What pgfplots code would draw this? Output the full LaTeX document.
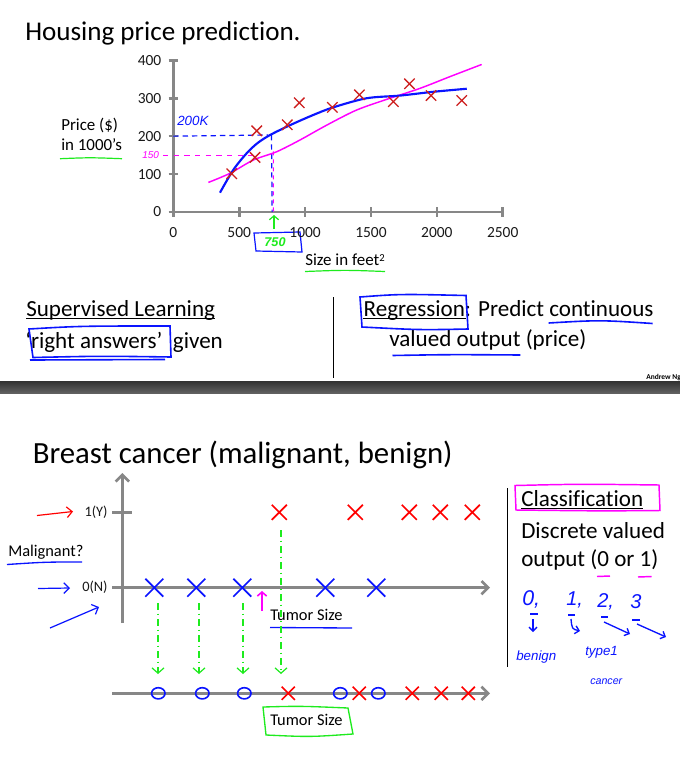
\documentclass[border=0pt]{standalone}
\usepackage{fontspec}
\setmainfont{Carlito}[Ligatures={NoCommon}]
\newfontfamily\hand{Liberation Sans}
\usepackage{pgfplots}
\pgfplotsset{compat=1.18}
\usetikzlibrary{arrows.meta}
\definecolor{axgray}{RGB}{135,135,135}
\definecolor{hblue}{RGB}{10,20,255}
\definecolor{hgreen}{RGB}{30,235,30}
\definecolor{hmag}{RGB}{255,0,255}
\definecolor{dred}{RGB}{205,30,30}
\definecolor{bred}{RGB}{255,0,0}
\newcommand{\fs}[1]{\fontsize{#1}{#1}\selectfont}
\begin{document}
\begin{tikzpicture}
\begin{scope}[x=0.75pt,y=-0.75pt]
\path[fill=white] (0,0) rectangle (680,761);
\path[use as bounding box] (0,0) rectangle (680,761);
% slide separator bar
\shade[top color=black!80, bottom color=black!62] (0,381.5) rectangle (680,393);
% ---------- top slide texts
\node[anchor=base west,inner sep=0,font=\fs{20.3}] at (25,40.7) {Housing price prediction.};
\node[anchor=base west,inner sep=0,font=\fs{12.7}] at (61,130.7) {Price (\$)};
\node[anchor=base west,inner sep=0,font=\fs{12.7}] at (61,150.7) {in 1000’s};
\draw[hgreen,line width=0.9pt] (60,158.7) .. controls (90,157.5) .. (122,158.7);
\node[anchor=base west,inner sep=0,font=\fs{12.7}] at (305,265) {Size in feet\raisebox{0.45ex}{\fs{8}2}};
\draw[hgreen,line width=0.9pt] (305,271.5) .. controls (345,270) .. (385,271.5);
% handwritten on chart
\node[anchor=west,inner sep=0,text=hblue,font=\hand\itshape\fs{10}] at (177,121) {200K};
\node[anchor=west,inner sep=0,text=hmag,font=\hand\itshape\fs{7.5}] at (142,155.5) {150};
\draw[hgreen,line width=0.9pt,-{Straight Barb[length=3pt,width=7pt]}] (274,229) -- (274,215);
\draw[hblue,line width=0.9pt] (254,233) -- (300,232) -- (302,252) -- (256,251) -- cycle;
\node[anchor=center,inner sep=0,text=hgreen,font=\hand\bfseries\itshape\fs{9.5}] at (275,242) {750};
% middle texts
\node[anchor=base west,inner sep=0,font=\fs{17.3}] at (26,316) {Supervised Learning};
\draw[black,line width=0.8pt] (26,318.3) -- (215,318.3);
\node[anchor=base west,inner sep=0,font=\fs{17.3}] at (25,348.3) {‘right answers’\hspace{4pt} given};
\draw[hblue,line width=1.2pt] (29,329) .. controls (80,326) .. (170,326) -- (171,357) .. controls (100,356) .. (33,357.5) -- cycle;
\draw[hblue,line width=1.2pt] (30,360) -- (165,359.5);
\draw[black,line width=0.6pt] (333,297) -- (333,378.3);
\node[anchor=base west,inner sep=0,font=\fs{17.3}] at (363.4,316) {Regression: Predict continuous};
\draw[black,line width=0.8pt] (363.4,318.3) -- (466,318.3);
\node[anchor=base west,inner sep=0,font=\fs{17.3}] at (389,346) {valued output (price)};
\draw[hblue,line width=1.2pt] (360,297) .. controls (400,294) .. (466,295.5) -- (468,329) .. controls (420,330) .. (362,327) -- cycle;
\draw[hblue,line width=1.2pt] (548.6,323) .. controls (600,320) .. (652.6,323.5);
\draw[hblue,line width=1.2pt] (392.5,355.5) .. controls (450,354.5) .. (520.4,355);
\node[anchor=base west,inner sep=0,font=\bfseries\fs{5.6}] at (646,379) {Andrew Ng};
% ---------- bottom slide texts
\node[anchor=base west,inner sep=0,font=\fs{23.1}] at (32.5,463) {Breast cancer (malignant, benign)};
\node[anchor=base west,inner sep=0,font=\fs{12.3}] at (8,556) {Malignant?};
\draw[hblue,line width=1pt] (7,564.5) .. controls (45,562) .. (82,562);
\draw[bred,line width=0.9pt,-{Straight Barb[length=4pt,width=8pt]}] (37,515.5) -- (73,511.5);
\draw[hblue,line width=0.9pt,-{Straight Barb[length=4pt,width=8pt]}] (38,588.5) -- (70,588);
\draw[hblue,line width=0.9pt,-{Straight Barb[length=4pt,width=8pt]}] (50,628) -- (99,607);
\node[anchor=base west,inner sep=0,font=\fs{12.3}] at (270,620.7) {Tumor Size};
\draw[hblue,line width=1pt] (270,627.5) -- (352,628);
\draw[hmag,line width=1.2pt,-{Straight Barb[length=3pt,width=7pt]}] (262,611) -- (262,591);
% green dashed projections
\foreach \gx/\gy in {158/603,199/603,243/603,281/530}{
  \draw[hgreen,line width=0.9pt,dash pattern=on 5pt off 3pt on 1pt off 3pt,-{Straight Barb[length=4pt,width=9pt]}] (\gx,\gy) -- (\gx,674);
}
\node[anchor=base west,inner sep=0,font=\fs{12.3}] at (270,725) {Tumor Size};
\draw[hgreen,line width=1pt] (263,707) .. controls (300,706) .. (348,708) -- (353,734) .. controls (310,737) .. (266,735) -- cycle;
% right column
\draw[black,line width=0.6pt] (507.3,488) -- (507.3,667);
\node[anchor=base west,inner sep=0,font=\fs{17.3}] at (521,506) {Classification};
\draw[black,line width=0.8pt] (521,508.3) -- (643,508.3);
\draw[hmag,line width=1.1pt] (515,485.5) .. controls (580,484) .. (659,485) -- (660,510.5) .. controls (600,511) .. (516,510) -- cycle;
\node[anchor=base west,inner sep=0,font=\fs{17.3}] at (521,538.3) {Discrete valued};
\node[anchor=base west,inner sep=0,font=\fs{17.3}] at (521,566.7) {output (0 or 1)};
\draw[hmag,line width=1.1pt] (597,576.5) -- (610,576);
\draw[hmag,line width=1.1pt] (638,577) -- (651.7,576.5);
\node[anchor=base west,inner sep=0,text=hblue,font=\hand\itshape\fs{16}] at (522,605) {0,};
\node[anchor=base west,inner sep=0,text=hblue,font=\hand\itshape\fs{15}] at (566,605) {1,};
\node[anchor=base west,inner sep=0,text=hblue,font=\hand\itshape\fs{15}] at (597,607) {2,};
\node[anchor=base west,inner sep=0,text=hblue,font=\hand\itshape\fs{15}] at (630,608) {3};
\draw[hblue,line width=1pt] (530,614) -- (538,614) (568,615) -- (575,615) (601,617) -- (608,617) (632,620) -- (640,620);
\draw[hblue,line width=1pt,-{Straight Barb[length=3pt,width=6pt]}] (533,619) -- (533,632);
\draw[hblue,line width=1pt,-{Straight Barb[length=3pt,width=6pt]}] (571,619) .. controls (572,629) .. (580,631);
\draw[hblue,line width=1pt,-{Straight Barb[length=3pt,width=6pt]}] (604,622) -- (630,634);
\draw[hblue,line width=1pt,-{Straight Barb[length=3pt,width=6pt]}] (637,624) -- (666,637);
\node[anchor=base west,inner sep=0,text=hblue,font=\hand\itshape\fs{10}] at (516,660) {benign};
\node[anchor=base west,inner sep=0,text=hblue,font=\hand\itshape\fs{10}] at (585,655) {type1};
\node[anchor=base west,inner sep=0,text=hblue,font=\hand\itshape\fs{8}] at (590,684) {cancer};
\end{scope}
% ================= top chart
\begin{axis}[
  at={(130pt,-159pt)}, anchor=south west, scale only axis,
  width=247.05pt, height=113.78pt,
  xmin=0, xmax=2500, ymin=0, ymax=400,
  axis x line=bottom, axis y line=left,
  axis line style={draw=axgray, line width=2.2pt, -},
  xtick={0,500,...,2500}, ytick={0,100,...,400},
  tick align=center, major tick length=7pt,
  tick style={draw=axgray, line width=2pt},
  /pgf/number format/assume math mode=true,
  /pgf/number format/1000 sep={},
  tick label style={font=\fs{11.6}, text=black!90},
  xticklabel style={yshift=-4.5pt},
  yticklabel style={xshift=-2pt},
  clip=false,
]
\addplot[hblue, line width=0.9pt, dash pattern=on 4pt off 3pt] coordinates {(0,200) (720,203)};
\addplot[hblue, line width=0.9pt, dash pattern=on 4pt off 3pt] coordinates {(745,203) (750,0)};
\addplot[hmag, line width=0.8pt, dash pattern=on 4pt off 4pt] coordinates {(-78,150) (600,150)};
\addplot[hmag, line width=0.8pt, dash pattern=on 3pt off 3pt] coordinates {(759,160) (760,0)};
\addplot[hmag, line width=1.1pt, smooth] coordinates {(266,78) (430,102) (607,137) (785,159) (962,190) (1164,229) (1392,269) (1645,300) (1872,326) (2100,357) (2340,389)};
\addplot[hblue, line width=1.6pt, smooth] coordinates {(354,51) (455,111) (557,155) (640,182) (734,203) (886,229) (1063,256) (1214,276) (1468,300) (1721,307) (1974,317) (2227,325)};
\addplot[only marks, mark=x, mark size=5.5pt, mark options={dred, line width=1pt}] coordinates {(443,101) (633,214) (620,144) (865,230) (956,288) (1207,276) (1412,309) (1670,291) (1792,338) (1956,307) (2189,294)};
\end{axis}
% ================= bottom chart 1
\begin{axis}[
  at={(84pt,-467.25pt)}, anchor=south west, scale only axis,
  width=283.5pt, height=112.5pt,
  xmin=-1.03, xmax=36.77, ymin=-0.468, ymax=1.521,
  axis lines=middle,
  axis line style={draw=axgray, line width=2.2pt, -{Straight Barb[length=5pt,width=10pt,line width=2pt]}},
  xtick=\empty, ytick={0,1}, yticklabels={0(N),1(Y)},
  hide obscured y ticks=false,
  tick align=center, major tick length=15pt,
  tick style={draw=axgray, line width=2pt},
  tick label style={font=\fs{10.8}, text=black!90},
  clip=false,
]
\addplot[only marks, mark=x, mark size=9.5pt, mark options={hblue, line width=1.3pt}] coordinates {(3.2,0) (7.4,0) (12.0,0) (20.3,0) (25.4,0)};
\addplot[only marks, mark=x, mark size=8pt, mark options={bred, line width=1.3pt}] coordinates {(15.7,1) (23.3,1) (28.7,1) (31.8,1) (35.0,1)};
\end{axis}
% ================= bottom chart 2
\begin{axis}[
  at={(84pt,-531.225pt)}, anchor=south west, scale only axis,
  width=283.5pt, height=22.5pt,
  xmin=-1.03, xmax=36.77, ymin=-1, ymax=1,
  axis lines=middle,
  x axis line style={draw=axgray, line width=2.2pt, -{Straight Barb[length=5pt,width=10pt,line width=2pt]}},
  y axis line style={draw=none},
  xtick=\empty, ytick=\empty,
  clip=false,
]
\addplot[only marks, mark=o, mark size=4.2pt, mark options={hblue, line width=1.2pt, xscale=1.2}] coordinates {(3.6,0) (8.0,0) (12.2,0) (21.8,0) (25.6,0)};
\addplot[only marks, mark=x, mark size=7pt, mark options={bred, line width=1.2pt}] coordinates {(16.6,0) (23.7,0) (29.0,0) (31.9,0) (34.6,0)};
\end{axis}
\end{tikzpicture}
\end{document}
